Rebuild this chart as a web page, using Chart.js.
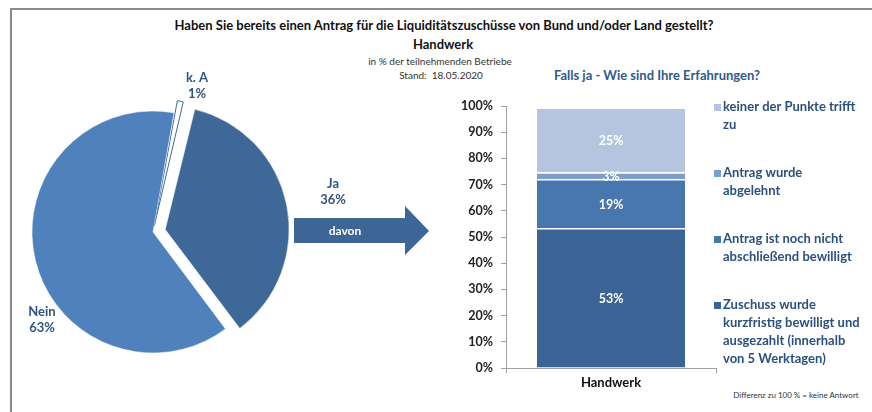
<!doctype html>
<html lang="de">
  <head>
    <meta charset="UTF-8" />
    <title>Liquiditätszuschüsse Handwerk</title>
    <script src="https://cdn.jsdelivr.net/npm/chart.js"></script>
    <style>
      body { margin: 0; width: 872px; height: 412px; position: relative; background: #fff; font-family: Lato, "Liberation Sans", sans-serif; overflow: hidden; }
      .frame { position: absolute; left: 10px; top: 8px; right: 0; bottom: 0; border-left: 2px solid #8c8c8c; border-top: 2px solid #8c8c8c; }
      .txt { position: absolute; white-space: nowrap; transform: translate(-50%, -50%); }
      #pie { position: absolute; left: 0; top: 60px; }
      #bar { position: absolute; left: 440px; top: 90px; }
    </style>
  </head>
  <body>
    <div class="frame"></div>
    <div class="txt" style="left: 444px; top: 25px; font-weight: bold; font-size: 13px; color: #111">
      Haben Sie bereits einen Antrag für die Liquiditätszuschüsse von Bund und/oder Land gestellt?
    </div>
    <div class="txt" style="left: 443px; top: 44px; font-weight: bold; font-size: 13px; color: #111">Handwerk</div>
    <div class="txt" style="left: 440px; top: 61px; font-size: 10px; color: #333">in % der teilnehmenden Betriebe</div>
    <div class="txt" style="left: 441px; top: 75px; font-size: 10px; color: #333">Stand:&nbsp; 18.05.2020</div>
    <div class="txt" style="left: 657px; top: 75px; font-weight: bold; font-size: 13px; color: #2f5a8c">
      Falls ja - Wie sind Ihre Erfahrungen?
    </div>
    <div class="txt" style="left: 796px; top: 395px; font-size: 8px; color: #333">Differenz zu 100 % = keine Antwort</div>

    <canvas id="pie" width="440" height="340"></canvas>
    <canvas id="bar" width="432" height="310"></canvas>

    <script>
      // pie: Antrag gestellt?
      const pieLabels = ["k. A", "Ja", "Nein"];
      const pieValues = [1, 36, 63];
      const pieColors = ["#ffffff", "#3e6897", "#4f81bd"];

      // stacked bar: Falls ja - Erfahrungen
      const barCategories = ["Handwerk"];
      const barSeries = [
        ["Zuschuss wurde", "kurzfristig bewilligt und", "ausgezahlt (innerhalb", "von 5 Werktagen)"],
        ["Antrag ist noch nicht", "abschließend bewilligt"],
        ["Antrag wurde", "abgelehnt"],
        ["keiner der Punkte trifft", "zu"],
      ];
      const barValues = [[53.4], [18.7], [2.6], [24.7]];
      const barColors = ["#3b6496", "#4877b0", "#7d9dcb", "#b6c5df"];
      const yTicks = [0, 10, 20, 30, 40, 50, 60, 70, 80, 90, 100];

      const labelBlue = "#2f5481";
      const font = "Lato, 'Liberation Sans', sans-serif";

      // label offsets relative to the pie centre
      const pieLabelOffsets = [[44, -146], [180, -40], [-111, 88]];

      const pieExtras = {
        id: "pieExtras",
        afterDraw(chart) {
          const ctx = chart.ctx;
          const meta = chart.getDatasetMeta(0);
          const cx = meta.data[0].x;
          const cy = meta.data[0].y;
          ctx.save();
          // arrow "davon"
          ctx.fillStyle = "#3d6596";
          ctx.beginPath();
          ctx.moveTo(294, 158);
          ctx.lineTo(405, 158);
          ctx.lineTo(405, 146);
          ctx.lineTo(429, 171);
          ctx.lineTo(405, 195);
          ctx.lineTo(405, 183);
          ctx.lineTo(294, 183);
          ctx.closePath();
          ctx.fill();
          ctx.fillStyle = "#fff";
          ctx.font = "bold 12px " + font;
          ctx.textAlign = "center";
          ctx.textBaseline = "middle";
          ctx.fillText("davon", 345, 171);
          // slice labels
          ctx.fillStyle = labelBlue;
          ctx.font = "bold 13px " + font;
          const total = pieValues.reduce((a, b) => a + b, 0);
          pieLabels.forEach((lab, i) => {
            const [dx, dy] = pieLabelOffsets[i];
            const pct = Math.round((pieValues[i] / total) * 100) + "%";
            ctx.fillText(lab, cx + dx, cy + dy - 8);
            ctx.fillText(pct, cx + dx, cy + dy + 8);
          });
          ctx.restore();
        },
      };

      new Chart(document.getElementById("pie"), {
        type: "pie",
        data: {
          labels: pieLabels,
          datasets: [
            {
              data: pieValues,
              backgroundColor: pieColors,
              borderColor: ["#3e6897", "#ffffff", "#ffffff"],
              borderWidth: [1, 0.5, 0.5],
              offset: [26, 50, 0],
              radius: 121,
            },
          ],
        },
        options: {
          responsive: false,
          animation: false,
          events: [],
          rotation: 10,
          layout: { padding: { left: 23, right: 157, top: 42, bottom: 38 } },
          plugins: { legend: { display: false }, tooltip: { enabled: false } },
        },
        plugins: [pieExtras],
      });

      const barExtras = {
        id: "barExtras",
        afterDatasetsDraw(chart) {
          const ctx = chart.ctx;
          ctx.save();
          ctx.font = "bold 12.5px " + font;
          ctx.textAlign = "center";
          ctx.textBaseline = "middle";
          ctx.fillStyle = "#fff";
          chart.data.datasets.forEach((ds, i) => {
            chart.getDatasetMeta(i).data.forEach((el, j) => {
              const v = ds.data[j];
              const yc = (el.y + el.base) / 2;
              ctx.fillText(Math.round(v) + "%", el.x, yc + 1);
            });
          });
          ctx.restore();
        },
        afterDraw(chart) {
          // legend, top series first
          const ctx = chart.ctx;
          ctx.save();
          ctx.font = "bold 13px " + font;
          ctx.textBaseline = "middle";
          ctx.textAlign = "left";
          const n = chart.data.datasets.length;
          for (let k = 0; k < n; k++) {
            const ds = chart.data.datasets[n - 1 - k];
            const y0 = 17 + k * 66;
            ctx.fillStyle = ds.backgroundColor;
            ctx.fillRect(274, y0 - 3, 7, 7);
            ctx.fillStyle = "#2b507f";
            ds.label.forEach((line, li) => ctx.fillText(line, 283, y0 + li * 18));
          }
          ctx.restore();
        },
      };

      new Chart(document.getElementById("bar"), {
        type: "bar",
        data: {
          labels: barCategories,
          datasets: barSeries.map((lab, i) => ({
            label: lab,
            data: barValues[i],
            backgroundColor: barColors[i],
            borderColor: "#ffffff",
            borderWidth: { top: 1.5, bottom: 0, left: 0, right: 0 },
            borderSkipped: false,
            categoryPercentage: 1,
            barPercentage: 0.706,
          })),
        },
        options: {
          responsive: false,
          animation: false,
          events: [],
          layout: { padding: { left: 0, right: 156, top: 16, bottom: 0 } },
          plugins: { legend: { display: false }, tooltip: { enabled: false } },
          scales: {
            x: {
              stacked: true,
              afterFit: (s) => { s.height = 32; },
              grid: { drawOnChartArea: false, tickLength: 5, color: "#a0a0a0" },
              border: { color: "#a0a0a0" },
              ticks: { color: "#111", font: { family: font, size: 13, weight: "bold" }, padding: 2 },
            },
            y: {
              stacked: true,
              min: 0,
              max: 100,
              afterFit: (s) => { s.width = 66; },
              afterBuildTicks: (s) => { s.ticks = yTicks.map((v) => ({ value: v })); },
              grid: { drawOnChartArea: false, tickLength: 5, color: "#a0a0a0" },
              border: { color: "#a0a0a0" },
              ticks: {
                color: "#222",
                font: { family: font, size: 12.5, weight: "bold" },
                padding: 8,
                callback: (v) => v + "%",
              },
            },
          },
        },
        plugins: [barExtras],
      });
    </script>
  </body>
</html>
